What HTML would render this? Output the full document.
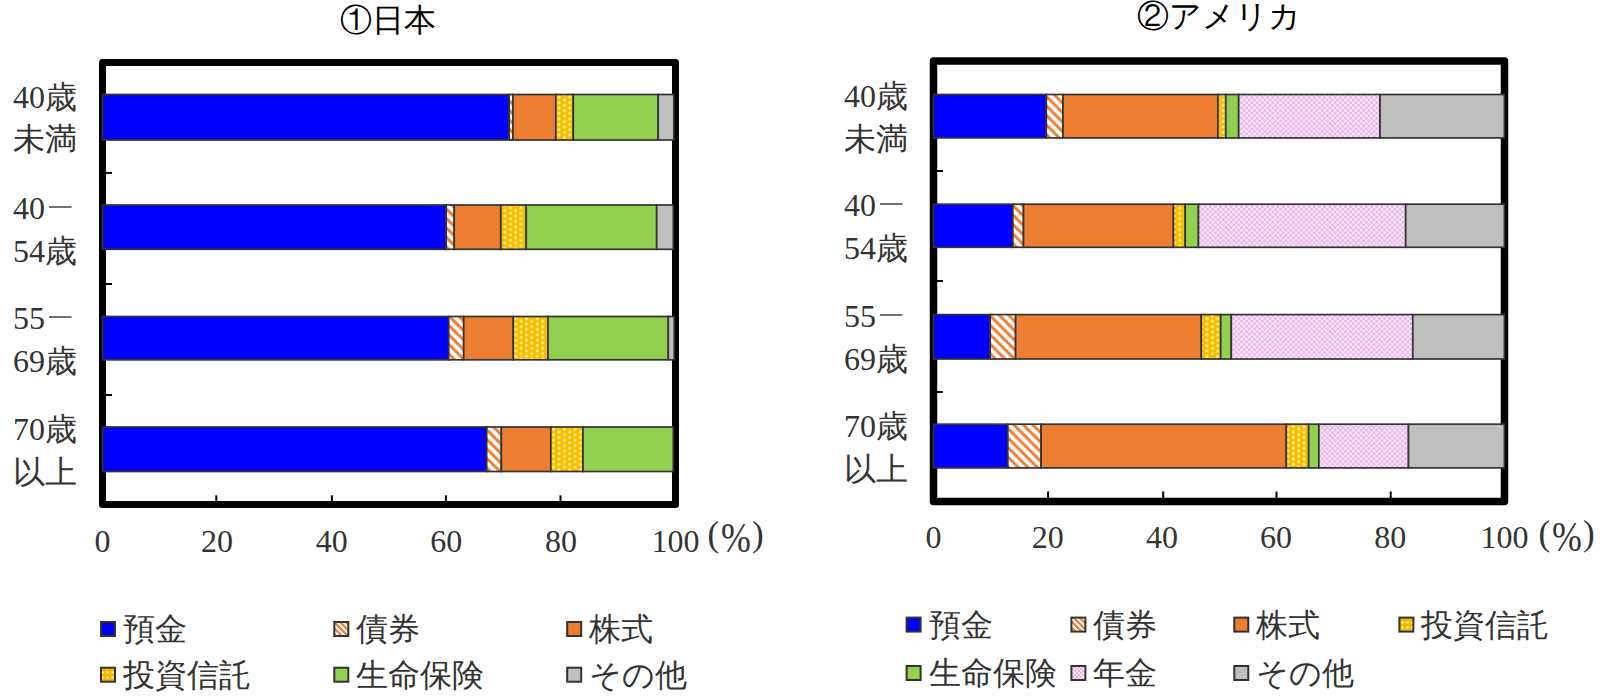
<!DOCTYPE html>
<html lang="ja"><head><meta charset="utf-8"><title>chart</title>
<style>
html,body{margin:0;padding:0;background:#fff;width:1620px;height:700px;overflow:hidden}
svg{display:block}
.yl,.xl,.pc,.lg,.pp{font-family:"Liberation Serif",serif;font-size:32px;fill:#333}
.pp{font-size:35px}
.ti{font-family:"Liberation Sans",sans-serif;font-size:32px;fill:#000}
</style></head><body>
<svg width="1620" height="700" viewBox="0 0 1620 700">
<defs>
<pattern id="pBond" patternUnits="userSpaceOnUse" width="9.5" height="9.5">
<rect width="9.5" height="9.5" fill="#fff"/>
<path d="M-2,-2 L11.5,11.5 M-2,7.5 L2,11.5 M7.5,-2 L11.5,2" stroke="#ed7d31" stroke-width="2.9"/>
</pattern>
<pattern id="pBondL" patternUnits="userSpaceOnUse" width="6" height="6">
<rect width="6" height="6" fill="#fff"/>
<path d="M-2,-2 L8,8 M-2,4 L2,8 M4,-2 L8,2" stroke="#ed7d31" stroke-width="2.2"/>
</pattern>
<pattern id="pTrust" patternUnits="userSpaceOnUse" width="10.8" height="5.4">
<rect width="10.8" height="5.4" fill="#f7bc00"/>
<circle cx="2.7" cy="2.7" r="1.55" fill="#fff48a"/>
<circle cx="8.1" cy="0" r="1.55" fill="#fff48a"/>
<circle cx="8.1" cy="5.4" r="1.55" fill="#fff48a"/>
</pattern>
<pattern id="pTrustL" patternUnits="userSpaceOnUse" width="5" height="5">
<rect width="5" height="5" fill="#f5b800"/>
<circle cx="2.5" cy="2.5" r="1.2" fill="#fff7a0"/>
</pattern>
<pattern id="pPen" patternUnits="userSpaceOnUse" width="5.2" height="5.2">
<rect width="5.2" height="5.2" fill="#fde8fd"/>
<rect x="0" y="0" width="2.6" height="2.6" fill="#ecb4ec"/>
<rect x="2.6" y="2.6" width="2.6" height="2.6" fill="#ecb4ec"/>
</pattern>
<pattern id="pPenL" patternUnits="userSpaceOnUse" width="4" height="4">
<rect width="4" height="4" fill="#fde8fd"/>
<rect x="0" y="0" width="2" height="2" fill="#eab4ea"/>
<rect x="2" y="2" width="2" height="2" fill="#eab4ea"/>
</pattern>
</defs>
<rect width="1620" height="700" fill="#fff"/>
<rect x="102.5" y="62.6" width="573" height="442" fill="none" stroke="#000" stroke-width="7" stroke-linejoin="round"/>
<rect x="933.5" y="61" width="571" height="440.5" fill="none" stroke="#000" stroke-width="7.5" stroke-linejoin="round"/>
<rect x="102.5" y="94.5" width="406.7" height="45.5" fill="#0000ff" stroke="#333" stroke-width="1.7"/>
<rect x="509.2" y="94.5" width="3.8" height="45.5" fill="url(#pBond)" stroke="#333" stroke-width="1.7"/>
<rect x="513.0" y="94.5" width="42.8" height="45.5" fill="#ed7d31" stroke="#333" stroke-width="1.7"/>
<rect x="555.8" y="94.5" width="17.5" height="45.5" fill="url(#pTrust)" stroke="#333" stroke-width="1.7"/>
<rect x="573.3" y="94.5" width="84.9" height="45.5" fill="#92d050" stroke="#333" stroke-width="1.7"/>
<rect x="658.2" y="94.5" width="15.6" height="45.5" fill="#bfbfbf" stroke="#333" stroke-width="1.7"/>
<rect x="102.5" y="205.0" width="343.7" height="44.3" fill="#0000ff" stroke="#333" stroke-width="1.7"/>
<rect x="446.2" y="205.0" width="8.0" height="44.3" fill="url(#pBond)" stroke="#333" stroke-width="1.7"/>
<rect x="454.2" y="205.0" width="46.6" height="44.3" fill="#ed7d31" stroke="#333" stroke-width="1.7"/>
<rect x="500.8" y="205.0" width="25.4" height="44.3" fill="url(#pTrust)" stroke="#333" stroke-width="1.7"/>
<rect x="526.2" y="205.0" width="130.5" height="44.3" fill="#92d050" stroke="#333" stroke-width="1.7"/>
<rect x="656.7" y="205.0" width="16.6" height="44.3" fill="#bfbfbf" stroke="#333" stroke-width="1.7"/>
<rect x="102.5" y="316.5" width="346.2" height="43.3" fill="#0000ff" stroke="#333" stroke-width="1.7"/>
<rect x="448.7" y="316.5" width="15.0" height="43.3" fill="url(#pBond)" stroke="#333" stroke-width="1.7"/>
<rect x="463.7" y="316.5" width="49.6" height="43.3" fill="#ed7d31" stroke="#333" stroke-width="1.7"/>
<rect x="513.3" y="316.5" width="34.7" height="43.3" fill="url(#pTrust)" stroke="#333" stroke-width="1.7"/>
<rect x="548.0" y="316.5" width="120.3" height="43.3" fill="#92d050" stroke="#333" stroke-width="1.7"/>
<rect x="668.3" y="316.5" width="5.9" height="43.3" fill="#bfbfbf" stroke="#333" stroke-width="1.7"/>
<rect x="102.5" y="427.0" width="384.2" height="44.5" fill="#0000ff" stroke="#333" stroke-width="1.7"/>
<rect x="486.7" y="427.0" width="14.6" height="44.5" fill="url(#pBond)" stroke="#333" stroke-width="1.7"/>
<rect x="501.3" y="427.0" width="49.5" height="44.5" fill="#ed7d31" stroke="#333" stroke-width="1.7"/>
<rect x="550.8" y="427.0" width="32.2" height="44.5" fill="url(#pTrust)" stroke="#333" stroke-width="1.7"/>
<rect x="583.0" y="427.0" width="90.3" height="44.5" fill="#92d050" stroke="#333" stroke-width="1.7"/>
<rect x="933.5" y="94.5" width="112.8" height="43.4" fill="#0000ff" stroke="#333" stroke-width="1.7"/>
<rect x="1046.3" y="94.5" width="16.7" height="43.4" fill="url(#pBond)" stroke="#333" stroke-width="1.7"/>
<rect x="1063.0" y="94.5" width="154.9" height="43.4" fill="#ed7d31" stroke="#333" stroke-width="1.7"/>
<rect x="1217.9" y="94.5" width="7.9" height="43.4" fill="url(#pTrust)" stroke="#333" stroke-width="1.7"/>
<rect x="1225.8" y="94.5" width="12.9" height="43.4" fill="#92d050" stroke="#333" stroke-width="1.7"/>
<rect x="1238.7" y="94.5" width="141.3" height="43.4" fill="url(#pPen)" stroke="#333" stroke-width="1.7"/>
<rect x="1380.0" y="94.5" width="124.4" height="43.4" fill="#bfbfbf" stroke="#333" stroke-width="1.7"/>
<rect x="933.5" y="204.2" width="79.3" height="43.1" fill="#0000ff" stroke="#333" stroke-width="1.7"/>
<rect x="1012.8" y="204.2" width="10.7" height="43.1" fill="url(#pBond)" stroke="#333" stroke-width="1.7"/>
<rect x="1023.5" y="204.2" width="150.0" height="43.1" fill="#ed7d31" stroke="#333" stroke-width="1.7"/>
<rect x="1173.5" y="204.2" width="11.7" height="43.1" fill="url(#pTrust)" stroke="#333" stroke-width="1.7"/>
<rect x="1185.2" y="204.2" width="13.3" height="43.1" fill="#92d050" stroke="#333" stroke-width="1.7"/>
<rect x="1198.5" y="204.2" width="207.2" height="43.1" fill="url(#pPen)" stroke="#333" stroke-width="1.7"/>
<rect x="1405.7" y="204.2" width="98.7" height="43.1" fill="#bfbfbf" stroke="#333" stroke-width="1.7"/>
<rect x="933.5" y="314.6" width="56.7" height="44.4" fill="#0000ff" stroke="#333" stroke-width="1.7"/>
<rect x="990.2" y="314.6" width="25.4" height="44.4" fill="url(#pBond)" stroke="#333" stroke-width="1.7"/>
<rect x="1015.6" y="314.6" width="185.7" height="44.4" fill="#ed7d31" stroke="#333" stroke-width="1.7"/>
<rect x="1201.3" y="314.6" width="19.4" height="44.4" fill="url(#pTrust)" stroke="#333" stroke-width="1.7"/>
<rect x="1220.7" y="314.6" width="10.6" height="44.4" fill="#92d050" stroke="#333" stroke-width="1.7"/>
<rect x="1231.3" y="314.6" width="181.5" height="44.4" fill="url(#pPen)" stroke="#333" stroke-width="1.7"/>
<rect x="1412.8" y="314.6" width="91.6" height="44.4" fill="#bfbfbf" stroke="#333" stroke-width="1.7"/>
<rect x="933.5" y="424.2" width="74.3" height="43.7" fill="#0000ff" stroke="#333" stroke-width="1.7"/>
<rect x="1007.8" y="424.2" width="33.3" height="43.7" fill="url(#pBond)" stroke="#333" stroke-width="1.7"/>
<rect x="1041.1" y="424.2" width="245.2" height="43.7" fill="#ed7d31" stroke="#333" stroke-width="1.7"/>
<rect x="1286.3" y="424.2" width="22.4" height="43.7" fill="url(#pTrust)" stroke="#333" stroke-width="1.7"/>
<rect x="1308.7" y="424.2" width="10.2" height="43.7" fill="#92d050" stroke="#333" stroke-width="1.7"/>
<rect x="1318.9" y="424.2" width="89.6" height="43.7" fill="url(#pPen)" stroke="#333" stroke-width="1.7"/>
<rect x="1408.5" y="424.2" width="95.9" height="43.7" fill="#bfbfbf" stroke="#333" stroke-width="1.7"/>
<line x1="105" x2="112" y1="172.9" y2="172.9" stroke="#000" stroke-width="2"/>
<line x1="105" x2="112" y1="284.0" y2="284.0" stroke="#000" stroke-width="2"/>
<line x1="105" x2="112" y1="395.0" y2="395.0" stroke="#000" stroke-width="2"/>
<line x1="216.3" x2="216.3" y1="495.3" y2="502" stroke="#000" stroke-width="2"/>
<line x1="331.9" x2="331.9" y1="495.3" y2="502" stroke="#000" stroke-width="2"/>
<line x1="445.9" x2="445.9" y1="495.3" y2="502" stroke="#000" stroke-width="2"/>
<line x1="560.5" x2="560.5" y1="495.3" y2="502" stroke="#000" stroke-width="2"/>
<line x1="936" x2="943" y1="171.0" y2="171.0" stroke="#000" stroke-width="2"/>
<line x1="936" x2="943" y1="281.0" y2="281.0" stroke="#000" stroke-width="2"/>
<line x1="936" x2="943" y1="392.0" y2="392.0" stroke="#000" stroke-width="2"/>
<line x1="1048.1" x2="1048.1" y1="491.5" y2="498" stroke="#000" stroke-width="2"/>
<line x1="1163.2" x2="1163.2" y1="491.5" y2="498" stroke="#000" stroke-width="2"/>
<line x1="1276.5" x2="1276.5" y1="491.5" y2="498" stroke="#000" stroke-width="2"/>
<line x1="1390.7" x2="1390.7" y1="491.5" y2="498" stroke="#000" stroke-width="2"/>
<text x="13" y="108" class="yl" text-anchor="start">40歳</text>
<text x="13" y="150" class="yl" text-anchor="start">未満</text>
<text x="13" y="219" class="yl" text-anchor="start">40</text>
<text x="13" y="262" class="yl" text-anchor="start">54歳</text>
<line x1="49" x2="71.5" y1="207" y2="207" stroke="#333" stroke-width="1.4"/>
<text x="13" y="329" class="yl" text-anchor="start">55</text>
<text x="13" y="372" class="yl" text-anchor="start">69歳</text>
<line x1="49" x2="71.5" y1="317" y2="317" stroke="#333" stroke-width="1.4"/>
<text x="13" y="440" class="yl" text-anchor="start">70歳</text>
<text x="13" y="483" class="yl" text-anchor="start">以上</text>
<text x="844" y="107" class="yl" text-anchor="start">40歳</text>
<text x="844" y="150" class="yl" text-anchor="start">未満</text>
<text x="844" y="216" class="yl" text-anchor="start">40</text>
<text x="844" y="259" class="yl" text-anchor="start">54歳</text>
<line x1="880" x2="902.5" y1="204" y2="204" stroke="#333" stroke-width="1.4"/>
<text x="844" y="327" class="yl" text-anchor="start">55</text>
<text x="844" y="370" class="yl" text-anchor="start">69歳</text>
<line x1="880" x2="902.5" y1="315" y2="315" stroke="#333" stroke-width="1.4"/>
<text x="844" y="437" class="yl" text-anchor="start">70歳</text>
<text x="844" y="480" class="yl" text-anchor="start">以上</text>
<text x="102.5" y="551.5" class="xl" text-anchor="middle">0</text>
<text x="933.5" y="547.5" class="xl" text-anchor="middle">0</text>
<text x="217.1" y="551.5" class="xl" text-anchor="middle">20</text>
<text x="1047.7" y="547.5" class="xl" text-anchor="middle">20</text>
<text x="331.7" y="551.5" class="xl" text-anchor="middle">40</text>
<text x="1161.9" y="547.5" class="xl" text-anchor="middle">40</text>
<text x="446.29999999999995" y="551.5" class="xl" text-anchor="middle">60</text>
<text x="1276.1" y="547.5" class="xl" text-anchor="middle">60</text>
<text x="560.9" y="551.5" class="xl" text-anchor="middle">80</text>
<text x="1390.3" y="547.5" class="xl" text-anchor="middle">80</text>
<text x="675.5" y="551.5" class="xl" text-anchor="middle">100</text>
<text x="1504.5" y="547.5" class="xl" text-anchor="middle">100</text>
<text x="707.5" y="546" class="pp">(</text><text transform="translate(721,551.5) scale(1.12,1.34)" class="pc">%</text><text x="752" y="546" class="pp">)</text>
<text x="1538.5" y="545" class="pp">(</text><text transform="translate(1552,550.5) scale(1.12,1.34)" class="pc">%</text><text x="1583" y="545" class="pp">)</text>
<text x="340" y="31" class="ti" text-anchor="start">①日本</text>
<text x="1137" y="27" class="ti" text-anchor="start">②アメリカ</text>
<rect x="101" y="622" width="14" height="14" fill="#0000ff" stroke="#333" stroke-width="2"/><text x="123" y="640" class="lg" text-anchor="start">預金</text>
<rect x="334.3" y="622" width="14" height="14" fill="url(#pBondL)" stroke="#333" stroke-width="2"/><text x="356.3" y="640" class="lg" text-anchor="start">債券</text>
<rect x="567.2" y="622" width="14" height="14" fill="#ed7d31" stroke="#333" stroke-width="2"/><text x="589.2" y="640" class="lg" text-anchor="start">株式</text>
<rect x="101" y="667.7" width="14" height="14" fill="url(#pTrustL)" stroke="#333" stroke-width="2"/><text x="123" y="685.7" class="lg" text-anchor="start">投資信託</text>
<rect x="334.3" y="667.7" width="14" height="14" fill="#92d050" stroke="#333" stroke-width="2"/><text x="356.3" y="685.7" class="lg" text-anchor="start">生命保険</text>
<rect x="567.2" y="667.7" width="14" height="14" fill="#bfbfbf" stroke="#333" stroke-width="2"/><text x="589.2" y="685.7" class="lg" text-anchor="start">その他</text>
<rect x="906.6" y="617.6" width="14" height="14" fill="#0000ff" stroke="#333" stroke-width="2"/><text x="928.6" y="635.6" class="lg" text-anchor="start">預金</text>
<rect x="1071.4" y="617.6" width="14" height="14" fill="url(#pBondL)" stroke="#333" stroke-width="2"/><text x="1093.4" y="635.6" class="lg" text-anchor="start">債券</text>
<rect x="1234.3" y="617.6" width="14" height="14" fill="#ed7d31" stroke="#333" stroke-width="2"/><text x="1256.3" y="635.6" class="lg" text-anchor="start">株式</text>
<rect x="1399.4" y="617.6" width="14" height="14" fill="url(#pTrustL)" stroke="#333" stroke-width="2"/><text x="1421.4" y="635.6" class="lg" text-anchor="start">投資信託</text>
<rect x="906.6" y="666" width="14" height="14" fill="#92d050" stroke="#333" stroke-width="2"/><text x="928.6" y="684" class="lg" text-anchor="start">生命保険</text>
<rect x="1071.4" y="666" width="14" height="14" fill="url(#pPenL)" stroke="#333" stroke-width="2"/><text x="1093.4" y="684" class="lg" text-anchor="start">年金</text>
<rect x="1234.3" y="666" width="14" height="14" fill="#bfbfbf" stroke="#333" stroke-width="2"/><text x="1256.3" y="684" class="lg" text-anchor="start">その他</text>
</svg>
</body></html>
